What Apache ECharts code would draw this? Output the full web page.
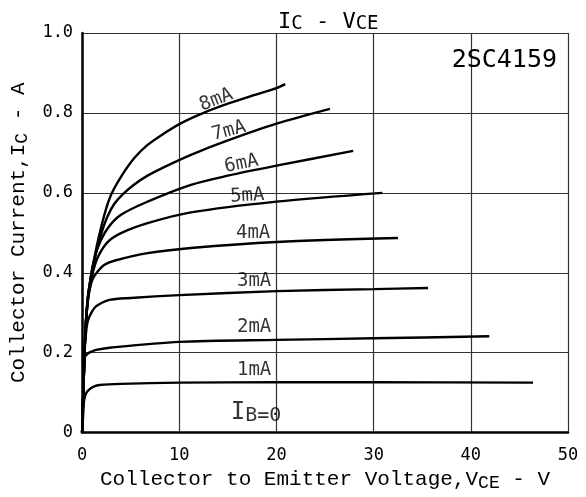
<!DOCTYPE html>
<html>
<head>
<meta charset="utf-8">
<script src="https://cdn.jsdelivr.net/npm/echarts@6/dist/echarts.min.js"></script>
<style>
  html, body { margin: 0; padding: 0; background: #fff; }
  #chart { width: 586px; height: 497px; }
</style>
</head>
<body>
<div id="chart"></div>
<script>
    // Ic - Vce curves of 2SC4159, one [Vce, Ic] list per base current
    var ib0 = [[0, 0], [47, 0]];
    var ib1 = [[0, 0], [0.1, 0.04], [0.2, 0.08], [0.4, 0.098], [0.75, 0.108], [1.2, 0.115], [1.8, 0.119], [4, 0.122], [10, 0.125], [20, 0.126], [30, 0.126], [46.4, 0.125]];
    var ib2 = [[0, 0], [0.1, 0.08], [0.2, 0.16], [0.3, 0.19], [0.6, 0.198], [1.0, 0.203], [1.44, 0.207], [3, 0.213], [10, 0.227], [20, 0.232], [30, 0.236], [41.9, 0.241]];
    var ib3 = [[0, 0], [0.1, 0.08], [0.2, 0.16], [0.3, 0.22], [0.45, 0.26], [0.6, 0.28], [1.0, 0.302], [1.44, 0.316], [2.8, 0.332], [5, 0.337], [10, 0.344], [20, 0.354], [30, 0.359], [35.6, 0.362]];
    var ib4 = [[0, 0], [0.1, 0.08], [0.2, 0.16], [0.35, 0.26], [0.6, 0.33], [0.8, 0.36], [1.1, 0.385], [1.6, 0.403], [2.3, 0.42], [3.3, 0.43], [6.74, 0.449], [11.2, 0.462], [20, 0.477], [32.5, 0.487]];
    var ib5 = [[0, 0], [0.1, 0.08], [0.2, 0.16], [0.35, 0.26], [0.6, 0.335], [0.8, 0.365], [1.1, 0.4], [1.6, 0.438], [2.6, 0.476], [4, 0.499], [6.74, 0.524], [11.2, 0.551], [20, 0.578], [30.9, 0.6]];
    var ib6 = [[0, 0], [0.1, 0.08], [0.2, 0.16], [0.35, 0.26], [0.6, 0.335], [0.8, 0.375], [1.1, 0.418], [1.6, 0.462], [2.6, 0.51], [4, 0.545], [6.74, 0.578], [11.2, 0.62], [15, 0.643], [20, 0.668], [27.9, 0.705]];
    var ib7 = [[0, 0], [0.1, 0.08], [0.2, 0.16], [0.35, 0.26], [0.6, 0.34], [0.92, 0.39], [1.25, 0.43], [1.6, 0.465], [2.0, 0.5], [2.6, 0.54], [3.3, 0.572], [4.2, 0.597], [5.37, 0.621], [6.74, 0.643], [8.5, 0.665], [11.2, 0.695], [15, 0.731], [20, 0.773], [25.5, 0.81]];
    var ib8 = [[0, 0], [0.1, 0.08], [0.2, 0.16], [0.35, 0.26], [0.6, 0.34], [0.92, 0.391], [1.25, 0.435], [1.61, 0.478], [2.29, 0.545], [2.98, 0.595], [4.0, 0.64], [5.37, 0.687], [6.74, 0.72], [8.45, 0.749], [10.16, 0.774], [12.5, 0.8], [15, 0.823], [17.5, 0.843], [20, 0.862], [20.9, 0.872]];

    var curveNames = ['IB=0', '1mA', '2mA', '3mA', '4mA', '5mA', '6mA', '7mA', '8mA'];
    var curves = [ib0, ib1, ib2, ib3, ib4, ib5, ib6, ib7, ib8];

    // where each curve's label sits (Vce, Ic) and how much it leans
    var labelAt = [[17.9, 0.05], [17.7, 0.156], [17.7, 0.265], [17.7, 0.378], [17.6, 0.5], [17.0, 0.5925], [16.4, 0.6725], [15.1, 0.755], [13.8, 0.8325]];
    var labelTilt = [0, 0, 0, 0, 0, 3, 11, 15, 21];

    var xMin = 0, xMax = 50, xStep = 10;
    var yMin = 0, yMax = 1.0, yStep = 0.2;

    var ink = '#000';
    var mono = '"DejaVu Sans Mono", monospace';
    var typewriter = '"Liberation Mono", monospace';

    var dom = document.getElementById('chart');
    var myChart = echarts.init(dom, null, { renderer: 'canvas' });

    var series = curves.map(function (pts, k) {
        return {
            name: curveNames[k],
            type: 'line',
            data: pts,
            showSymbol: false,
            smooth: 0.3,
            lineStyle: { color: ink, width: k === 0 ? 0 : 2.4 },
            z: 3
        };
    });

    series.push({
        name: 'labels',
        type: 'scatter',
        symbolSize: 1,
        itemStyle: { color: 'transparent' },
        silent: true,
        data: labelAt.map(function (p, k) {
            return {
                value: p,
                label: {
                    show: true,
                    position: 'inside',
                    rotate: labelTilt[k],
                    formatter: k === 0 ? 'I{b|B=0}' : curveNames[k],
                    fontFamily: mono,
                    fontSize: k === 0 ? 24 : 19,
                    color: ink,
                    rich: { b: { fontFamily: mono, fontSize: 20, color: ink, padding: [6, 0, 0, 0] } }
                }
            };
        }),
        z: 5
    });

    option = {
        animation: false,
        backgroundColor: '#fff',
        title: [{
            text: 'I{s|C} - V{s|CE}',
            left: 273,
            top: 5,
            textStyle: {
                fontFamily: mono, fontSize: 22, fontWeight: 'normal', color: ink,
                rich: { s: { fontFamily: mono, fontSize: 19, color: ink, padding: [5, 0, 0, 0] } }
            }
        }, {
            text: '2SC4159',
            right: 24,
            top: 43,
            textStyle: { fontFamily: mono, fontSize: 25, fontWeight: 'normal', color: ink }
        }],
        grid: { left: 81, right: 18, top: 33, bottom: 64 },
        xAxis: {
            type: 'value',
            min: xMin, max: xMax, interval: xStep,
            name: 'Collector to Emitter Voltage,V{s|CE} - V',
            nameLocation: 'middle',
            nameGap: 26,
            nameTextStyle: {
                fontFamily: typewriter, fontSize: 21, color: ink,
                rich: { s: { fontFamily: typewriter, fontSize: 18, color: ink, padding: [8, 0, 0, 0] } }
            },
            axisLine: { lineStyle: { color: ink, width: 2.5 } },
            axisTick: { show: false },
            axisLabel: { fontFamily: mono, fontSize: 17, color: ink, margin: 14 },
            splitLine: { lineStyle: { color: '#333', width: 1.2 } }
        },
        yAxis: {
            type: 'value',
            min: yMin, max: yMax, interval: yStep,
            name: 'Collector Current,I{s|C} - A',
            nameLocation: 'middle',
            nameGap: 47,
            nameRotate: 90,
            nameTextStyle: {
                fontFamily: typewriter, fontSize: 21, color: ink,
                rich: { s: { fontFamily: typewriter, fontSize: 18, color: ink, padding: [8, 0, 0, 0] } }
            },
            axisLine: { lineStyle: { color: ink, width: 2.5 } },
            axisTick: { show: false },
            axisLabel: {
                fontFamily: mono, fontSize: 17, color: ink, margin: 9,
                formatter: function (v) { return v === 0 ? '0' : v.toFixed(1); }
            },
            splitLine: { lineStyle: { color: '#333', width: 1.2 } }
        },
        series: series
    };

    option && myChart.setOption(option);
</script>
</body>
</html>
